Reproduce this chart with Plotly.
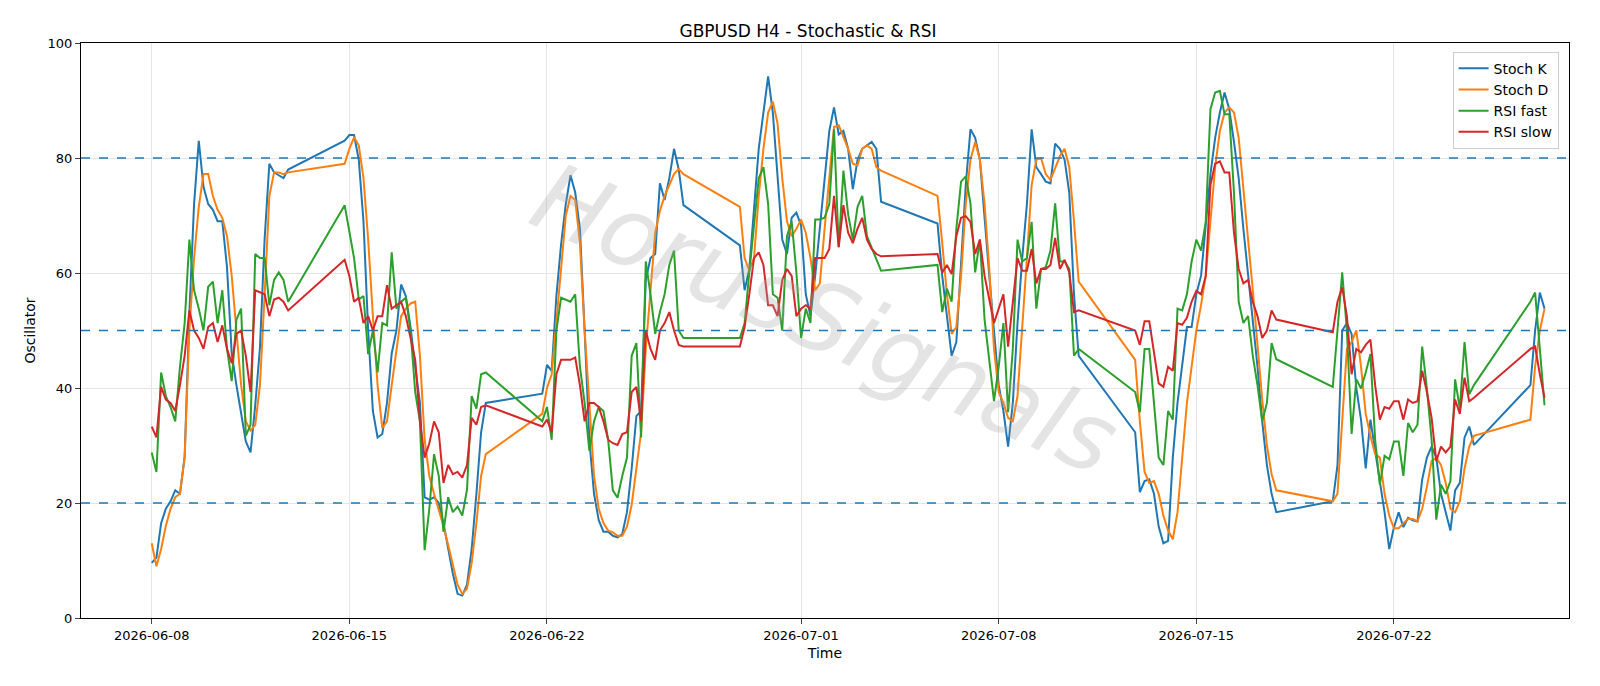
import pandas as pd
import plotly.graph_objects as go

# ---- data (H4 bars) ----
stoch_k = [
 9.6,10.5,16.5,19,20.3,22.2, 21.6,28,53,72,83,75, 72,71,69,69,61,46, 40.5,35.5,30.7,28.8,37,47, 66,79,77.5,77,76.5,78,
 83, 84,84,79.7,69,50,36, 31.4,32,37.4,46,50,58, 56,50.6,43.7,37.4,21,20.6, 21,20,16.5,12,7.7,4.2, 3.9,5.8,12,21.6,32.3,37.4,
 39, 44,43,56,65,72,77, 74,67.7,50,31,21.6,17, 15,15,14.3,14,14.6,18.4, 26,35.1,36,58.8,62.6,63.3, 75.6,72.7,76.5,81.6,78,71.8,
 64.8, 57,60.7,72,81.6,87.9,94.2, 87.9,76.5,65.8,63.3,69.6,70.5, 68.3,56.3,52.5,59.5,67.7,75.3, 84.7,88.8,84.1,84.7,81.6,74.6, 79.7,81.6,82.2,82.8,81.6,72.4,
 68.6, 59.5,52.5,45.6,48,62.6,75.3, 85,83.5,79.7,69,59.5,50, 40.5,36,29.8,37.4,51.3,62.6, 72,85,78.4,77.2,75.9,75.6, 82.5,81.6,79.7,74,56.3,45.6,
 32.3, 21.9,23.8,24.1,21.6,15.9,13, 13.4,27.9,37.4,43.7,50.6,50.6, 56.3,59.5,69,77.2,83.5,87.9, 91.4,88.5,82.8,76.5,67.7,59.5, 52.5,43.7,34.2,26.6,21.6,18.4,
 20.3, 26.6,50,51.3,49.4,40,34.5, 26,34.5,29.1,23.5,18.4,12, 15.8,18.4,15.8,17.4,17,16.8, 24.1,27.9,29.8,27.9,21.6,18.4, 15.2,22.2,23.5,31.4,33.3,30.1,
 40.5, 50,56.6,53.8]
stoch_d = [
 13,9,12,16,19,21, 21.6,28,50,62.6,71.5,77.2, 77.2,73.4,71,69.6,66.4,59.5, 50,40.5,34.2,32.6,33.6,40.5, 56.3,73.4,77.5,77.5,77.2,77.5,
 79, 81.6,83.6,82.2,76.5,65.8,52.5, 40.5,33,34.2,40.5,46.8,52.5, 53.8,54.7,55,45.6,31,24.7, 21.6,19,16,12.7,9,5.8, 4.2,5.1,9.6,16.5,24.7,28.5,
 35.5, 40,42.4,51.3,60,70,73.4, 72.7,65.2,50,37.4,24.7,19, 16.5,15.2,14.9,14.3,14.3,15.9, 19.7,26,32.3,46.8,56.3,67, 70.8,73.4,75.3,77.2,78.1,77.2,
 71.5, 62.6,60.4,62.6,73.4,81.6,87.9, 89.8,86,76.5,69,66.4,67.7, 69.3,67,62.6,57,58.2,67.7, 77.2,85.4,85.7,83.5,81.6,79, 78.7,81.6,82.2,81.6,78.4,77.8,
 73.4, 65.2,56.3,49.4,50.6,59.5,72, 79.7,82.8,79.7,72,60.7,46.8, 39.3,37.4,34.8,34.2,38.6,50, 62.6,75.3,79.7,80,77.2,76.2, 78.4,80.3,81.6,78.4,69,58.5,
 44.9, 34.2,25.4,23.5,23.8,21.6,17.8, 15.2,13.7,18.4,27.9,37.4,43.7, 50,54.4,59.5,69,78.4,84.7, 87.9,88.8,87.9,83.5,75.3,65.8, 57,47,38,30,25,22.2,
 20.3, 21.6,34.2,46.8,48,50,43.7, 35.5,31.7,28.5,27.9,21.6,17.8, 15.6,15.6,16.5,17.2,17.2,16.8, 19,22.8,27.3,27.9,26.6,23.5, 19,18.4,20.3,26,29.8,31.7,
 34.5, 43.7,50,53.8]
rsi_fast = [
 28.8,25.4,42.7,38.6,36.7,34.2, 43.7,51.3,65.8,57,53.8,50, 57.6,58.5,51.3,57,46.8,41.2, 51.9,53.8,31.7,33.6,63.3,62.6, 62.6,54.4,58.8,60.1,58.8,55,
 71.8, 67,62.6,55.4,56,45.9,50, 42.7,51.3,50.9,63.6,53.8,55, 55.7,50,39.3,34.2,11.8,19, 28.5,24.7,15,21,18.4,19.4, 17.8,22.3,38.6,36.4,42.4,42.7,
 34.2, 36.7,31,50,55.7,55.4,55, 56.3,43.7,37.4,29.1,34.2,36.7, 36,31,22.2,20.9,24.7,27.9, 45.6,47.8,31.4,62,56.3,49.4, 53.2,56.3,61.4,63.9,50,48.7,
 48.7, 51.3,60.1,69,76.5,78.4,72, 56.3,55.7,50,66.4,69,60.1, 48.7,53.8,51.3,69.3,69.3,69.6, 72,85,64.5,77.8,70.2,65.8, 71.5,73.4,66.4,64.5,62.6,60.4,
 61.4, 53.2,57.3,55,67.7,75.9,76.8, 72.1,60.1,65.8,51.9,45,37.7, 43.7,51.3,35.8,46.8,65.8,62, 62.6,68.9,53.8,60.7,61,63.9, 72.1,62,62,60.7,45.6,46.8,
 39.3, 35.8,46.8,46.8,37.4,27.9,26.6, 36,34.5,53.8,53.5,56.3,62, 65.8,63.9,68.9,88.5,91.4,91.7, 87.6,87.6,74,55,51.3,52.5, 45.6,40.5,34.2,37.4,47.8,45,
 40.2, 50,60.1,50,32,41.5,39.9, 42.7,45.9,31,23.2,28.2,27.6, 30.7,30.7,24.7,33.9,32.3,33.6, 47.2,39.9,31,17.1,23.2,21.6, 23.8,41.5,36.4,48,38.9,40.5,
 55, 56.6,46.8,37]
rsi_slow = [
 33.3,31.4,40.2,38,37.4,36, 40.5,45.6,53.5,50,48.7,46.8, 50.6,51.3,48,50.9,46.8,44.3, 49.4,50,45.6,39.3,57,56.6, 56.3,52.5,55.4,55.7,55,53.5,
 62.3, 59.5,55,55.7,51.3,52.5,50, 52.5,52.5,57.9,53.8,54.4,55, 52.5,48.7,44.9,34.2,27.9,30.4, 34.2,32.3,23.5,26.6,25,25.4, 24.4,26.6,34.8,33.6,36.7,37,
 33.3, 34.5,32.3,42.4,44.9,44.9,44.9, 45.3,40.5,34.2,37.4,37.4,36.7, 34.2,31,30.4,30.1,32,32.3, 39.3,40.2,34.2,50,46.8,44.9, 50,51.3,53.2,50,47.5,47.2,
 47.2, 50.6,56.3,62.6,63.6,61.4,54.4, 54.4,52.5,58.8,60.7,59.5,52.5, 53.8,54.4,53.8,62.6,62.6,62.6, 64.2,73.4,64.5,71.8,67,65.2, 67.7,69.6,65.8,64.2,63.3,62.9,
 63.3, 60.1,61.4,59.8,66.4,69.6,69.9, 68.9,63.3,65.8,59.5,55.7,51.3, 53.8,56.3,47.2,55,62.6,60.4, 60.4,64.2,58.2,60.7,60.7,61.4, 66.1,60.7,62.3,60.1,53.2,53.5,
 50, 47.5,51.6,51.6,46.2,40.8,40.2, 43.7,43,51.3,51,52.2,55, 56.9,56.3,59.5,75.3,79,79.4, 77.5,77.5,67,60.7,58.2,58.8, 55,52.5,48.7,50,53.5,51.9,
 49.7, 55,57.5,52.5,42.4,46.8,46.2, 47.5,48.4,40.5,34.5,36.7,36.4, 37.7,37.7,34.5,38,37.4,37.7, 43,39.3,34.8,27.3,29.8,28.8, 29.8,38,35.5,41.8,37.7,38.3,
 46.8, 47.2,42.4,38.3]

tick_labels = ["2026-06-08", "2026-06-15", "2026-06-22", "2026-07-01", "2026-07-08", "2026-07-15", "2026-07-22"]
levels = [20, 50, 80]

# ---- timestamps: Mon-Fri 6 bars/day, later weeks open with a Sunday 20:00 bar ----
times = []
for d in pd.date_range("2026-06-08", "2026-06-12"):
    times += [d + pd.Timedelta(hours=4 * b) for b in range(6)]
for wk in pd.date_range("2026-06-14", periods=6, freq="7D"):
    times.append(wk + pd.Timedelta(hours=20))
    for d in pd.date_range(wk + pd.Timedelta(days=1), periods=5):
        times += [d + pd.Timedelta(hours=4 * b) for b in range(6)]
times.append(pd.Timestamp("2026-07-26 20:00"))
times += [pd.Timestamp("2026-07-27") + pd.Timedelta(hours=4 * b) for b in range(3)]

n = len(times)
for s in (stoch_k, stoch_d, rsi_fast, rsi_slow):
    assert len(s) == n, (len(s), n)

fig = go.Figure()
series = [("Stoch K", stoch_k, "#1f77b4"), ("Stoch D", stoch_d, "#ff7f0e"),
          ("RSI fast", rsi_fast, "#2ca02c"), ("RSI slow", rsi_slow, "#d62728")]
for name, vals, col in series:
    fig.add_trace(go.Scatter(x=times, y=vals, mode="lines", name=name,
                             line=dict(color=col, width=2)))
for lv in levels:
    fig.add_hline(y=lv, line=dict(color="#1f77b4", width=1.3, dash="dash"))

fig.add_annotation(text="<i>HorusSignals</i>", x=0.5, y=0.52, xref="paper", yref="paper",
                   showarrow=False, textangle=24,
                   font=dict(family="DejaVu Sans", size=96, color="rgba(165,165,165,0.3)"))

x0 = pd.Timestamp("2026-06-08") - pd.Timedelta(days=2.505)
x1 = pd.Timestamp("2026-06-08") + pd.Timedelta(days=50.2)
fig.update_layout(
    width=1600, height=686, plot_bgcolor="white", paper_bgcolor="white",
    margin=dict(l=73, r=39, t=35, b=76),
    title=dict(text="GBPUSD H4 - Stochastic & RSI", x=0.5, xanchor="center", y=0.975,
               font=dict(family="DejaVu Sans", size=17, color="black")),
    font=dict(family="DejaVu Sans", size=13, color="black"),
    legend=dict(x=0.993, y=0.985, xanchor="right", yanchor="top", bgcolor="rgba(255,255,255,0.85)",
                bordercolor="#cccccc", borderwidth=1, font=dict(size=14), tracegroupgap=4),
    showlegend=True,
)
fig.update_xaxes(range=[x0, x1], tickvals=[pd.Timestamp(t) for t in tick_labels], ticktext=tick_labels,
                 showgrid=True, gridcolor="#e5e5e5", showline=True, linecolor="black", mirror=True,
                 ticks="outside", ticklen=5, title=dict(text="Time", standoff=6, font=dict(size=14)), zeroline=False)
fig.update_yaxes(range=[0, 100], tickvals=[0, 20, 40, 60, 80, 100], showgrid=True, gridcolor="#e5e5e5",
                 showline=True, linecolor="black", mirror=True, ticks="outside", ticklen=5,
                 title=dict(text="Oscillator", standoff=8, font=dict(size=14)), zeroline=False)
fig.write_html("out.html")
